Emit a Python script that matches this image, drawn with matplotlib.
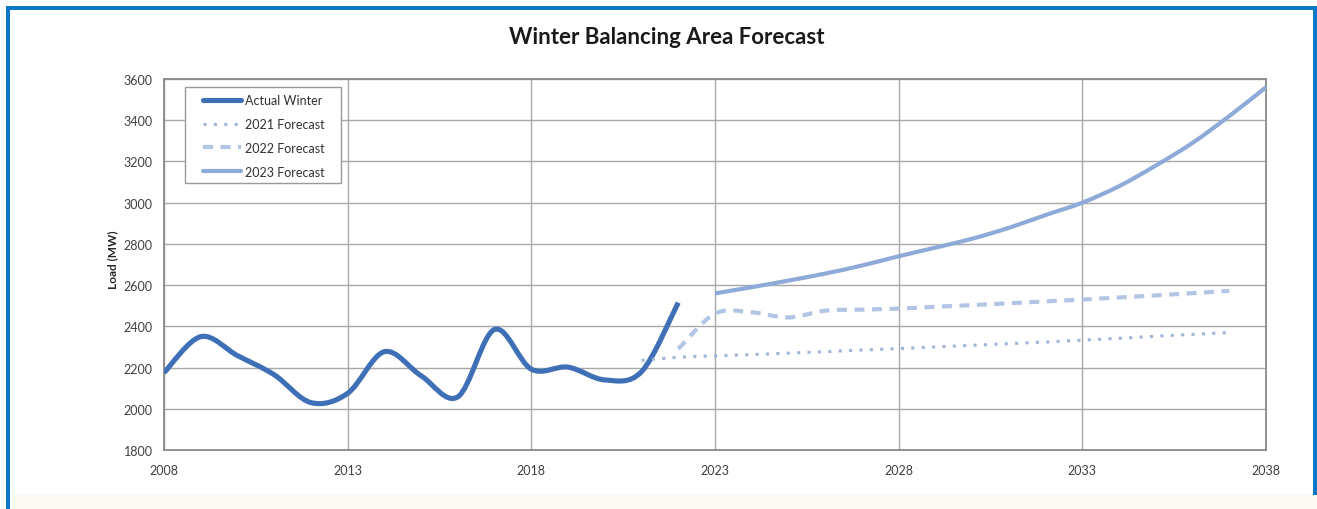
import matplotlib
matplotlib.use("Agg")
import matplotlib.pyplot as plt
from matplotlib.path import Path
from matplotlib.patches import PathPatch, Rectangle
from matplotlib.lines import Line2D
import numpy as np

# Winter peak load (MW)
actual_years = list(range(2008, 2023))
actual_load = [2175, 2350, 2258, 2165, 2030, 2075, 2277, 2160, 2058, 2385,
               2192, 2202, 2140, 2180, 2515]

f2021_years = list(range(2021, 2038))
f2021_load = [2235, 2250, 2257, 2263, 2270, 2277, 2285, 2292, 2300, 2308,
              2316, 2324, 2333, 2342, 2352, 2361, 2370]

f2022_years = list(range(2022, 2038))
f2022_load = [2290, 2462, 2468, 2443, 2476, 2481, 2486, 2495, 2503, 2512,
              2521, 2530, 2540, 2550, 2561, 2572]

f2023_years = list(range(2023, 2039))
f2023_load = [2560, 2590, 2622, 2656, 2695, 2740, 2782, 2825, 2878, 2940,
              3000, 3080, 3180, 3290, 3420, 3560]

x_ticks = [2008, 2013, 2018, 2023, 2028, 2033, 2038]
y_ticks = [1800, 2000, 2200, 2400, 2600, 2800, 3000, 3200, 3400, 3600]

FONT = "Lato"
W, H = 1317, 510
AX_L, AX_R, AX_T, AX_B = 164, 1266, 80, 451   # plot area in pixels


def smooth_path(xs, ys):
    """Smoothed line through the points, built from cubic Bezier segments."""
    x = np.asarray(xs, float)
    y = np.asarray(ys, float)
    n = len(x)
    verts = [(x[0], y[0])]
    codes = [Path.MOVETO]
    for i in range(n - 1):
        i0 = max(i - 1, 0)
        i3 = min(i + 2, n - 1)
        c1 = (x[i] + (x[i + 1] - x[i0]) / 6, y[i] + (y[i + 1] - y[i0]) / 6)
        c2 = (x[i + 1] - (x[i3] - x[i]) / 6, y[i + 1] - (y[i3] - y[i]) / 6)
        verts += [c1, c2, (x[i + 1], y[i + 1])]
        codes += [Path.CURVE4] * 3
    return Path(verts, codes)


def ax_x(px):
    return (px - AX_L) / (AX_R - AX_L)


def ax_y(py):
    return (AX_B - py) / (AX_B - AX_T)


fig = plt.figure(figsize=(W / 100, H / 100), dpi=100, facecolor="white")

# page frame
fig.add_artist(Rectangle((10 / W, 0), (W - 10) / W, 14 / H, transform=fig.transFigure,
                         facecolor="#fbfbf4", edgecolor="none"))
fig.add_artist(Rectangle((6 / W, 0), 4 / W, (H - 7) / H, transform=fig.transFigure,
                         facecolor="#0a77c9", edgecolor="none"))
fig.add_artist(Rectangle((6 / W, 1 - 11 / H), (W - 6) / W, 4 / H, transform=fig.transFigure,
                         facecolor="#0a77c9", edgecolor="none"))
fig.add_artist(Rectangle((1313 / W, 14 / H), 4 / W, (H - 21) / H, transform=fig.transFigure,
                         facecolor="#0a77c9", edgecolor="none"))

ax = fig.add_axes([AX_L / W, 1 - AX_B / H, (AX_R - AX_L) / W, (AX_B - AX_T) / H])
ax.set_xlim(2008, 2038)
ax.set_ylim(1800, 3600)
ax.set_xticks(x_ticks)
ax.set_yticks(y_ticks)
ax.tick_params(length=0, labelsize=9, labelcolor="#404040")
ax.tick_params(axis="y", pad=8)
ax.tick_params(axis="x", pad=10)
for lab in ax.get_xticklabels() + ax.get_yticklabels():
    lab.set_fontfamily(FONT)
ax.grid(True, color="#a8a8a8", lw=1.0)
ax.set_axisbelow(True)
for sp in ax.spines.values():
    sp.set_color("#8a8a8a")
    sp.set_linewidth(1.3)

styles = [
    ("Actual Winter", actual_years, actual_load, dict(color="#3f6fb6", lw=3.7, ls="-")),
    ("2021 Forecast", f2021_years, f2021_load, dict(color="#9fb4d8", lw=2.2, ls=(0, (1, 2.4)))),
    ("2022 Forecast", f2022_years, f2022_load, dict(color="#b2c5e4", lw=3.0, ls=(0, (2.4, 1.8)))),
    ("2023 Forecast", f2023_years, f2023_load, dict(color="#8eaad8", lw=3.0, ls="-")),
]

handles = []
for label, xs, ys, st in styles:
    patch = PathPatch(smooth_path(xs, ys), fill=False, edgecolor=st["color"],
                      linewidth=st["lw"], linestyle=st["ls"], capstyle="butt",
                      joinstyle="round", zorder=3)
    ax.add_patch(patch)
    handles.append(Line2D([], [], color=st["color"], lw=st["lw"], ls=st["ls"],
                          solid_capstyle="round", label=label))

# legend box with wider side margins than the legend's own frame allows
ax.add_patch(Rectangle((ax_x(185), ax_y(184)), ax_x(341) - ax_x(185), ax_y(88) - ax_y(184),
                       transform=ax.transAxes, facecolor="white", edgecolor="#9a9a9a",
                       lw=1.0, zorder=4.5))
leg = ax.legend(handles=handles, loc="upper left",
                bbox_to_anchor=(ax_x(203), ax_y(95)),
                prop={"family": FONT, "size": 9}, frameon=False,
                handlelength=3.0, handletextpad=0.35,
                labelspacing=0.95, borderpad=0, borderaxespad=0)
for t in leg.get_texts():
    t.set_color("#303030")

ax.set_ylabel("Load (MW)", fontfamily=FONT, fontsize=8.5, fontweight="bold", color="#262626")
ax.yaxis.set_label_coords(ax_x(118), ax_y(260))

fig.text(666.5 / W, 1 - 37 / H, "Winter Balancing Area Forecast", ha="center", va="center",
         fontfamily=FONT, fontsize=16, fontweight="bold", color="#1a1a1a")

fig.savefig("out.png", dpi=100)
